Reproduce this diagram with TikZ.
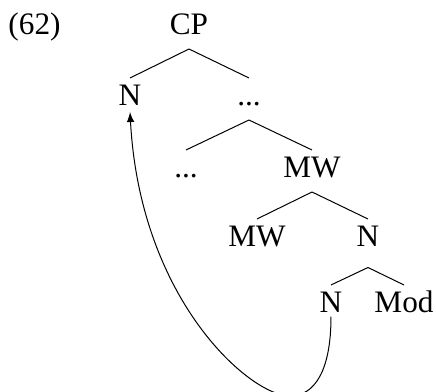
\documentclass[tikz,border=0pt]{standalone}
\usepackage{fontspec}
\setmainfont{Liberation Serif}
\usepackage{tikz}
\usetikzlibrary{calc,positioning}

\tikzset{
  cat/.style={font=\fontsize{12.5}{14}\selectfont, inner sep=0pt,
    text height=11pt, text depth=5.4pt, anchor=base},
  exnum/.style={font=\fontsize{12.5}{14}\selectfont, inner sep=0pt, anchor=base west},
  branch/.style={line width=0.4pt},
}

\begin{document}
\begin{tikzpicture}[x=0.4pt,y=-0.4pt]
  \useasboundingbox (0,0) rectangle (436,392);

  %% example number
  \node[exnum] (ex) at (8,35) {(62)};

  %% tree nodes (baselines)
  \node[cat] (cp)  at (189,35)  {CP};
  \node[cat] (n1)  at (130,106) {N};
  \node[cat] (d1)  at (249,106) {...};
  \node[cat] (d2)  at (186,178) {...};
  \node[cat] (mw1) at (312,178) {MW};
  \node[cat] (mw2) at (257,247) {MW};
  \node[cat, text depth=8pt] (n2) at (368,247) {N};
  \node[cat] (n3)  at (331,313) {N};
  \node[cat] (mod) at (404,313) {Mod};

  %% branches
  \foreach \p/\c in {cp/n1, cp/d1, d1/d2, d1/mw1, mw1/mw2, mw1/n2, n2/n3, n2/mod} {
    \draw[branch] (\p.south) -- (\c.north);
  }

  %% movement of N up to the CP edge
  \coordinate (low) at (290,396);
  \draw[branch,-latex] ([yshift=-1.5pt]n3.base) .. controls (331,370) and (315,396) .. (low)
      .. controls (250,396) and (140,300) .. ([yshift=-2.4pt]n1.base);
\end{tikzpicture}
\end{document}
